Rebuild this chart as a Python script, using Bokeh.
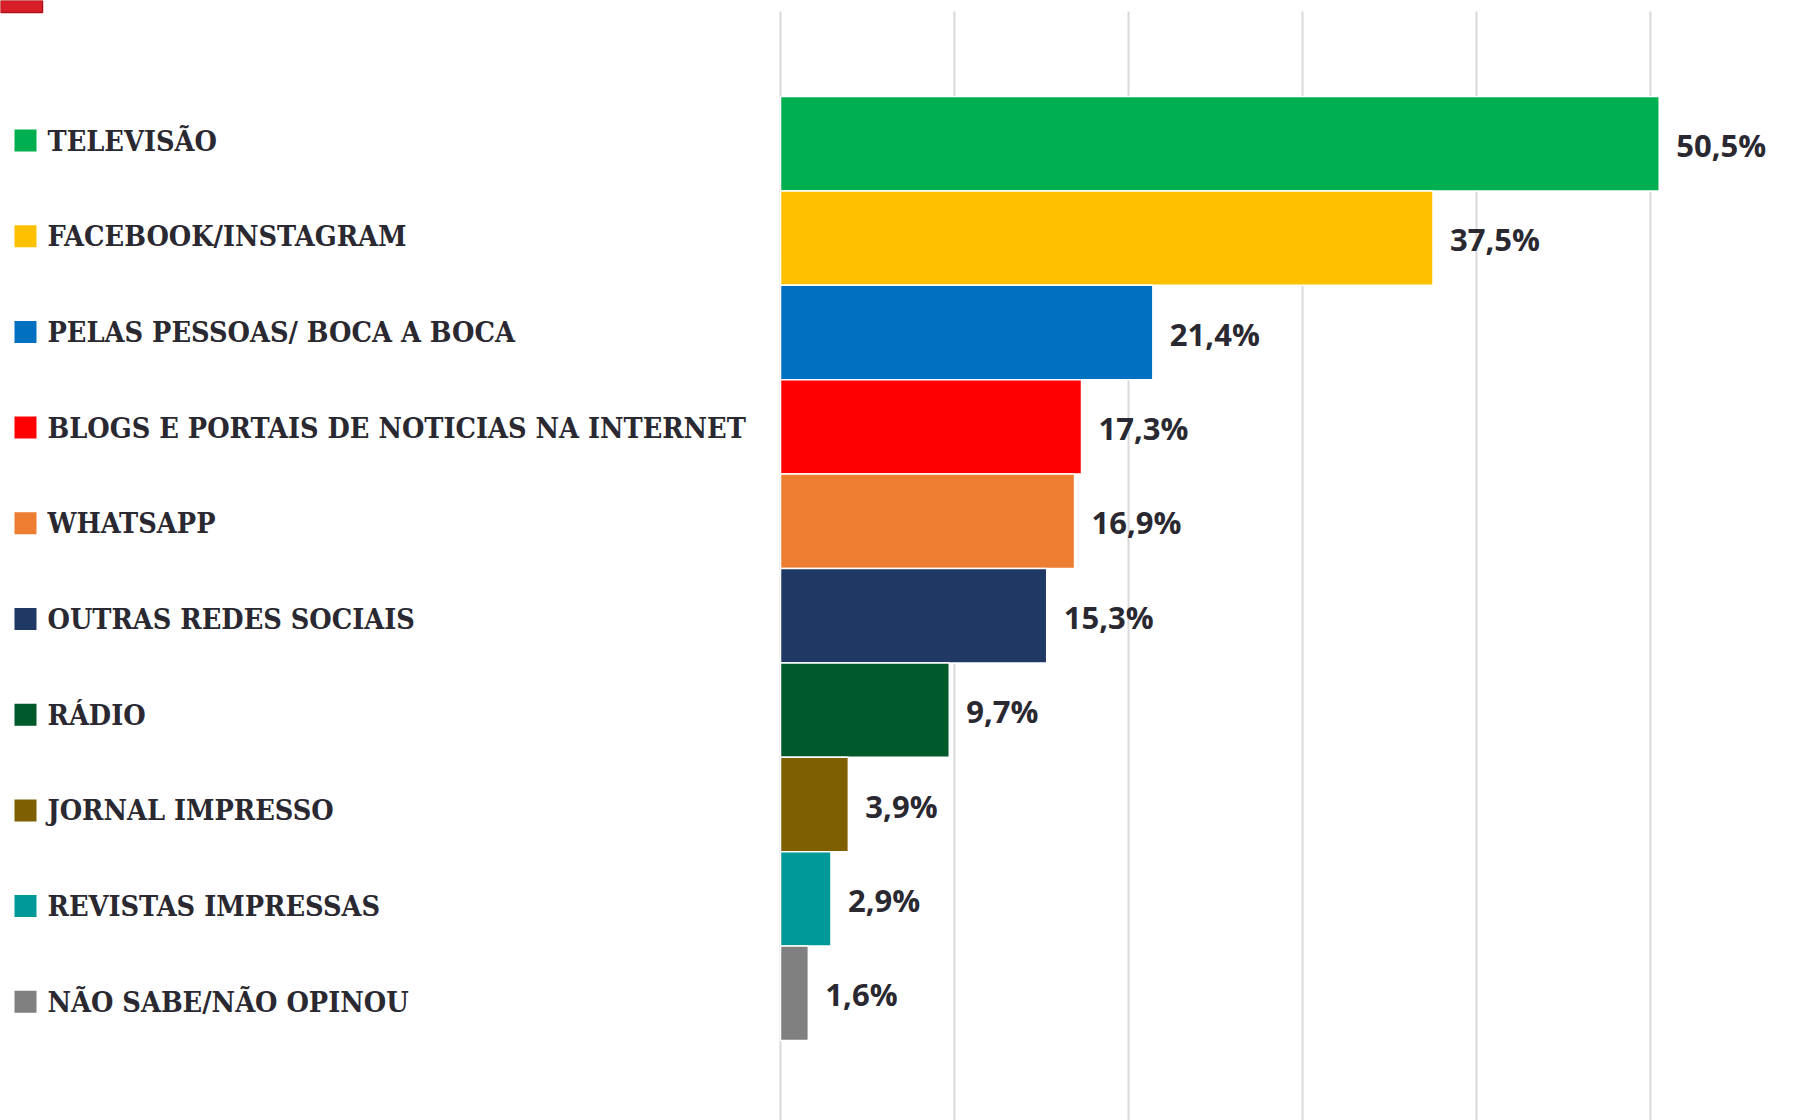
from bokeh.plotting import figure
from bokeh.models import Range1d, ColumnDataSource
from bokeh.core.properties import value
from bokeh.embed import file_html
from bokeh.resources import INLINE

categories = ["TELEVISÃO", "FACEBOOK/INSTAGRAM", "PELAS PESSOAS/ BOCA A BOCA",
              "BLOGS E PORTAIS DE NOTICIAS NA INTERNET", "WHATSAPP",
              "OUTRAS REDES SOCIAIS", "RÁDIO", "JORNAL IMPRESSO",
              "REVISTAS IMPRESSAS", "NÃO SABE/NÃO OPINOU"]
values = [50.5, 37.5, 21.4, 17.3, 16.9, 15.3, 9.7, 3.9, 2.9, 1.6]
labels = ["50,5%", "37,5%", "21,4%", "17,3%", "16,9%", "15,3%", "9,7%", "3,9%", "2,9%", "1,6%"]
colors = ["#00b050", "#ffc000", "#0070c0", "#ff0000", "#ed7d31",
          "#203864", "#00592a", "#7f6000", "#009999", "#808080"]
grid_ticks = [0, 10, 20, 30, 40, 50]

W, H = 1803, 1120
PX_PER_UNIT = 17.4
ZERO_X = 780.0           # figure px of 0%
BAR0_TOP = 96.0          # figure px of top of first bar
BAR_H = 94.4
LEG0 = 140.0             # figure px of first legend row center
LEG_STEP = 95.7

x_start = -ZERO_X / PX_PER_UNIT
x_end = (W - ZERO_X) / PX_PER_UNIT
y_top = -0.5 - BAR0_TOP / BAR_H
y_bot = (H - BAR0_TOP) / BAR_H - 0.5
l_top = -LEG0 / LEG_STEP
l_bot = (H - LEG0) / LEG_STEP

p = figure(width=W, height=H, output_backend="svg", toolbar_location=None,
           x_range=Range1d(x_start, x_end), y_range=Range1d(y_bot, y_top),
           min_border=0, outline_line_color=None)
p.extra_y_ranges = {"leg": Range1d(l_bot, l_top)}
p.axis.visible = False
p.grid.visible = False
p.background_fill_color = "white"
p.border_fill_color = "white"

idx = list(range(len(categories)))

# grid lines
grid_top = y_top + 11.0 / BAR_H
p.segment(x0=grid_ticks, x1=grid_ticks, y0=[grid_top] * len(grid_ticks),
          y1=[y_bot] * len(grid_ticks), line_color="#d9d9d9", line_width=2)

src = ColumnDataSource(dict(y=idx, v=values, c=colors, lab=labels, cat=categories))

p.hbar(y="y", left=0, right="v", height=1.0, fill_color="c", line_color="white",
       line_width=1.5, source=src)

p.text(x="v", y="y", text="lab", source=src, x_offset=17, y_offset=1,
       text_font=value("Open Sans"), text_font_style="bold", text_font_size="31px",
       text_color="#2a2830", text_align="left", text_baseline="middle")

# legend
leg_x_sq = (14 + 11 - ZERO_X) / PX_PER_UNIT
leg_x_txt = (47 - ZERO_X) / PX_PER_UNIT
p.scatter(x=[leg_x_sq] * len(idx), y=idx, y_range_name="leg", marker="square",
          size=22, fill_color=colors, line_color=None)
p.text(x=[leg_x_txt] * len(idx), y=idx, text=categories, y_range_name="leg",
       text_font=value("DejaVu Serif Condensed"), text_font_style="bold",
       text_font_size="28.6px", text_color="#2a2830", text_align="left",
       text_baseline="middle")

# red marker at top-left corner
p.quad(left=[x_start], right=[x_start + 42 / PX_PER_UNIT], top=[y_top],
       bottom=[y_top + 12 / BAR_H], fill_color="#d9202a", line_color="#b0101a",
       line_width=1.5)

open("out.html", "w").write(file_html(p, INLINE))
